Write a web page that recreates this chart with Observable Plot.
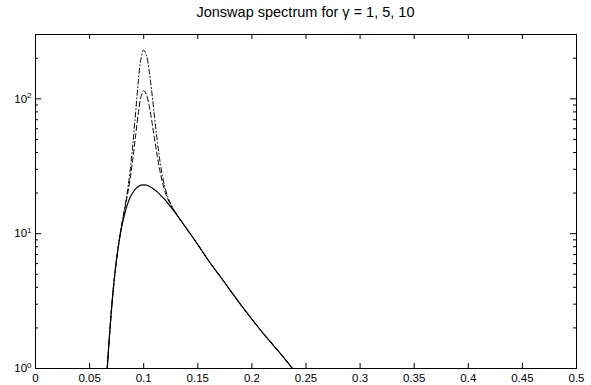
<!DOCTYPE html>
<html>
<head>
<meta charset="utf-8">
<script src="https://cdn.jsdelivr.net/npm/d3@7"></script>
<script src="https://cdn.jsdelivr.net/npm/@observablehq/plot@0.6"></script>
<style>
  html, body { margin: 0; padding: 0; background: #fff; }
  #wrap { position: relative; width: 591px; height: 385px; font-family: "Liberation Sans", Arial, sans-serif; }
  #title { position: absolute; left: 35px; width: 541px; top: 4px; text-align: center; font-size: 14.5px; color: #000; }
  #chart { position: absolute; left: 0; top: 27px; }
</style>
</head>
<body>
<div id="wrap">
  <div id="title">Jonswap spectrum for γ = 1, 5, 10</div>
  <div id="chart"></div>
</div>
<script>
const titleText = "Jonswap spectrum for γ = 1, 5, 10";
const freq = [0.0663, 0.068, 0.07, 0.0725, 0.075, 0.0775, 0.08, 0.0825, 0.085, 0.0875, 0.09, 0.0925, 0.095, 0.0975, 0.1, 0.1025, 0.105, 0.1075, 0.11, 0.1125, 0.115, 0.1175, 0.12, 0.1225, 0.125, 0.13, 0.14, 0.15, 0.16, 0.17, 0.18, 0.19, 0.2, 0.21, 0.22, 0.23, 0.2375];
const gamma1 = [1.0, 1.6, 2.6, 4.35, 6.5, 9.0, 11.6, 14.1, 16.5, 18.6, 20.2, 21.5, 22.4, 22.9, 23.0, 22.9, 22.5, 21.9, 21.2, 20.4, 19.5, 18.6, 17.7, 16.7, 15.8, 14.0, 10.8, 8.3, 6.3, 4.9, 3.8, 2.95, 2.32, 1.84, 1.48, 1.19, 1.0];
const gamma5 = [1.0, 1.6, 2.6, 4.35, 6.5, 9.06, 11.9, 15.2, 19.4, 25.7, 36.1, 53.2, 78.0, 103.5, 115, 107.5, 89.3, 68.4, 50.5, 37.7, 29.2, 23.7, 20.2, 17.9, 16.3, 14.05, 10.8, 8.3, 6.3, 4.9, 3.8, 2.95, 2.32, 1.84, 1.48, 1.19, 1.0];
const gamma10 = [1.0, 1.6, 2.6, 4.35, 6.5, 9.1, 12.05, 15.6, 20.8, 29.6, 46.3, 78.6, 133.4, 198, 230, 210, 162, 112, 73.4, 49.1, 34.7, 26.4, 21.5, 18.5, 16.6, 14.1, 10.8, 8.3, 6.3, 4.9, 3.8, 2.95, 2.32, 1.84, 1.48, 1.19, 1.0];
const xTicks = [0, 0.05, 0.1, 0.15, 0.2, 0.25, 0.3, 0.35, 0.4, 0.45, 0.5];
const xTickLabels = ["0", "0.05", "0.1", "0.15", "0.2", "0.25", "0.3", "0.35", "0.4", "0.45", "0.5"];
const yMajor = [1, 10, 100];
const yMajorExp = ["0", "1", "2"];
const yMinor = [2, 3, 4, 5, 6, 7, 8, 9, 20, 30, 40, 50, 60, 70, 80, 90, 200];

const rows = (ys) => freq.map((f, i) => ({f, s: ys[i]}));
const W = 591, H = 358, mt = 7, mb = 17, ml = 35, mr = 15;
const fh = H - mt - mb, fw = W - ml - mr;

const plot = Plot.plot({
  width: W, height: H,
  marginTop: mt, marginBottom: mb, marginLeft: ml, marginRight: mr,
  style: {fontFamily: "Liberation Sans, Arial, sans-serif", fontSize: "11px", background: "#fff", color: "#000"},
  x: {domain: [0, 0.5]},
  y: {type: "log", domain: [1, 300]},
  marks: [
    Plot.lineY(rows(gamma10), {x: "f", y: "s", stroke: "#000", strokeWidth: 1, strokeDasharray: "5,2.5,1,2.5", curve: "catmull-rom", clip: true}),
    Plot.lineY(rows(gamma5), {x: "f", y: "s", stroke: "#000", strokeWidth: 1, strokeDasharray: "5,3", curve: "catmull-rom", clip: true}),
    Plot.lineY(rows(gamma1), {x: "f", y: "s", stroke: "#000", strokeWidth: 1.2, curve: "catmull-rom", clip: true}),
    Plot.tickX(xTicks, {x: d => d, stroke: "#000", insetTop: fh - 5}),
    Plot.tickX(xTicks, {x: d => d, stroke: "#000", insetBottom: fh - 5}),
    Plot.tickY(yMajor, {y: d => d, stroke: "#000", insetRight: fw - 6}),
    Plot.tickY(yMajor, {y: d => d, stroke: "#000", insetLeft: fw - 6}),
    Plot.tickY(yMinor, {y: d => d, stroke: "#000", insetRight: fw - 3}),
    Plot.tickY(yMinor, {y: d => d, stroke: "#000", insetLeft: fw - 3}),
    Plot.axisX(xTicks, {tickSize: 0, tickPadding: 5, tickFormat: (d, i) => xTickLabels[i], label: null, fill: "#000", fontSize: 11.5}),
    Plot.axisY(yMajor, {tickSize: 0, tickPadding: 4, tickFormat: (d, i) => "10", label: null, fill: "#000", fontSize: 11.5}),
    Plot.frame({stroke: "#000", strokeWidth: 1})
  ]
});
document.getElementById("chart").appendChild(plot);

d3.select(plot).selectAll('g[aria-label="y-axis tick label"] text').each(function(d, i) {
  const t = d3.select(this);
  t.text(null).attr("fill", "#000").attr("font-size", "11.5px");
  t.append("tspan").text("10");
  t.append("tspan").attr("dy", "-0.55em").attr("font-size", "8px").text(yMajorExp[i]);
});
</script>
</body>
</html>
